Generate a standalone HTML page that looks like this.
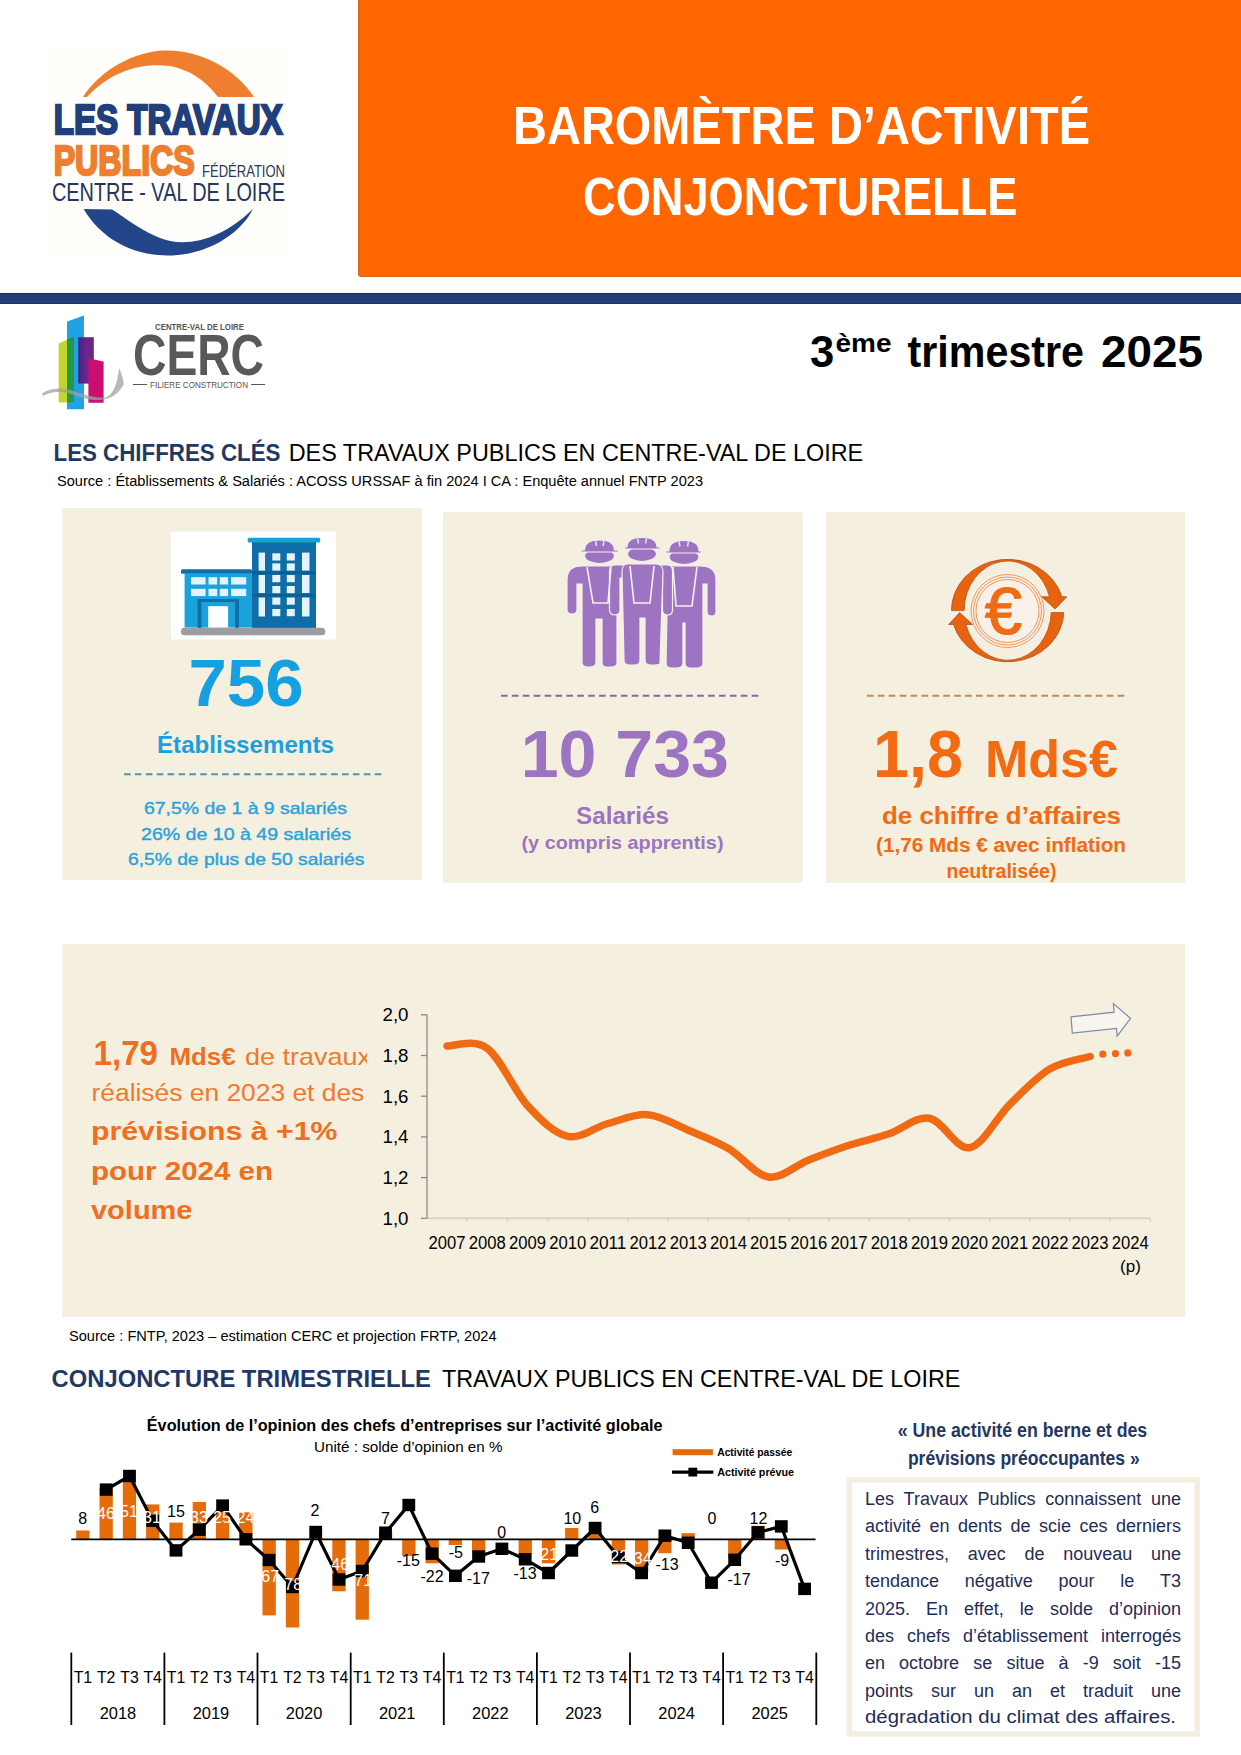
<!DOCTYPE html>
<html lang="fr">
<head>
<meta charset="utf-8">
<title>Baromètre d'activité conjoncturelle - 3ème trimestre 2025</title>
<style>
html,body{margin:0;padding:0;background:#fff;}
body{width:1241px;height:1755px;position:relative;overflow:hidden;font-family:"Liberation Sans",sans-serif;}
.abs{position:absolute;}
svg{position:absolute;left:0;top:0;overflow:visible;}
.card{position:absolute;background:#f5efe0;}
</style>
</head>
<body>
<!-- HEADER -->
<div class="abs" style="left:357.5px;top:0;width:881.5px;height:276px;background:#ff6600;border-left:2px solid #e2661a;border-bottom:1.6px solid #d9631c;border-bottom-left-radius:3px;"></div>
<div class="abs" style="left:0;top:292.5px;width:1241px;height:11.5px;background:#243e79;box-shadow:inset 0 1px 0 #1f2d5e, inset 0 -1px 0 #23335f;"></div>

<!-- CARDS BACKGROUNDS -->
<div class="card" style="left:62px;top:508px;width:360px;height:372px;"></div>
<div class="card" style="left:443px;top:512px;width:360px;height:371px;border-radius:3px;"></div>
<div class="card" style="left:826px;top:512px;width:359px;height:371px;"></div>
<div class="card" style="left:62px;top:944px;width:1123px;height:373px;"></div>

<svg width="1241" height="1755" viewBox="0 0 1241 1755" font-family="'Liberation Sans', sans-serif">
<!-- TP logo -->
<g id="tplogo">
  <rect x="48" y="49" width="243" height="205" fill="#fffefb"/>
  <path d="M83,97 C100,70 135,51 165,50.5 C200,50 235,68 254,97 L218,97 C205,80 190,70 170,66 C140,62 110,72 87,97 Z" fill="#ef7f2f"/>
  <path d="M83.7,209 L112,209.5 C125,217 145,235 170,241 C195,246 225,236 253,209 C240,235 205,256 167,255.5 C130,255 100,237 83.7,209 Z" fill="#23468a"/>
  <text x="53.7" y="133.8" font-size="43" font-weight="bold" fill="#213f7b" stroke="#213f7b" stroke-width="2.4" textLength="229" lengthAdjust="spacingAndGlyphs">LES TRAVAUX</text>
  <text x="53.7" y="174.8" font-size="41.6" font-weight="bold" fill="#ee7f30" stroke="#ee7f30" stroke-width="2.4" textLength="141" lengthAdjust="spacingAndGlyphs">PUBLICS</text>
  <text x="202" y="177" font-size="16" fill="#27375e" textLength="83" lengthAdjust="spacingAndGlyphs">FÉDÉRATION</text>
  <text x="52" y="201" font-size="26.5" fill="#22355f" textLength="233" lengthAdjust="spacingAndGlyphs">CENTRE - VAL DE LOIRE</text>
</g>
<!-- Title in orange -->
<text x="513" y="144.4" font-size="52.8" font-weight="bold" fill="#fff" textLength="577" lengthAdjust="spacingAndGlyphs">BAROMÈTRE D’ACTIVITÉ</text>
<text x="583" y="214.5" font-size="52.8" font-weight="bold" fill="#fff" textLength="434.5" lengthAdjust="spacingAndGlyphs">CONJONCTURELLE</text>

<!-- CERC logo -->
<g id="cerc">
  <defs><linearGradient id="pg" x1="0" x2="1" y1="0" y2="0"><stop offset="0" stop-color="#3a2a86"/><stop offset="0.6" stop-color="#74228f"/><stop offset="1" stop-color="#5e2a7e"/></linearGradient></defs>
  <path d="M58.7,343.4 L74,336.5 L74,402.5 L58.7,402.5 Z" fill="#c3d52b"/>
  <path d="M67,321.6 L84,315.4 L84,409.3 L67,409.3 Z" fill="#22a2e2"/>
  <path d="M67,339.4 L74,336.5 L74,402.5 L67,402.5 Z" fill="#1f9b48"/>
  <path d="M78.2,337.2 L93.8,337.2 L93.8,383.6 L78.2,383.6 Z" fill="url(#pg)"/>
  <path d="M88.4,358.2 L103.6,361.5 L103.6,402.8 L88.4,402.8 Z" fill="#cc0e72"/>
  <path d="M42,393.4 C50,388 60,387.5 70,390 C80,393 92,398 105.4,397.7 C113,395 117,385 119.2,368 C122,375 124,381 123.6,384.7 C118,395 110,399 100,400 C88,401 78,396 68,393 C58,391 50,392 43,396 Z" fill="#a0a0a0" opacity="0.75"/>
  <text x="155" y="330" font-size="8.5" font-weight="bold" fill="#555" textLength="89" lengthAdjust="spacingAndGlyphs">CENTRE-VAL DE LOIRE</text>
  <text x="133" y="375" font-size="57" font-weight="bold" fill="#58595b" textLength="131" lengthAdjust="spacingAndGlyphs">CERC</text>
  <text x="150" y="388" font-size="8.5" fill="#555" textLength="98" lengthAdjust="spacingAndGlyphs">FILIERE CONSTRUCTION</text>
  <rect x="133" y="384" width="14" height="1" fill="#555"/>
  <rect x="251" y="384" width="14" height="1" fill="#555"/>
</g>

<!-- 3eme trimestre -->
<text x="810" y="367" font-size="43.6" font-weight="bold" fill="#000">3</text>
<text x="835.5" y="352" font-size="25" font-weight="bold" fill="#000" textLength="56" lengthAdjust="spacingAndGlyphs">ème</text>
<text x="907.6" y="367" font-size="43.6" font-weight="bold" fill="#000" textLength="176.4" lengthAdjust="spacingAndGlyphs">trimestre</text>
<text x="1101" y="367" font-size="43.6" font-weight="bold" fill="#000" textLength="102" lengthAdjust="spacingAndGlyphs">2025</text>

<!-- Section header 1 -->
<text x="53.5" y="460.5" font-size="24.7" font-weight="bold" fill="#1f3864" textLength="227" lengthAdjust="spacingAndGlyphs">LES CHIFFRES CLÉS</text>
<text x="288.7" y="460.5" font-size="24.7" fill="#000" textLength="574.5" lengthAdjust="spacingAndGlyphs">DES TRAVAUX PUBLICS EN CENTRE-VAL DE LOIRE</text>
<text x="57" y="486" font-size="14" fill="#000" textLength="646" lengthAdjust="spacingAndGlyphs">Source : Établissements &amp; Salariés : ACOSS URSSAF à fin 2024 I CA : Enquête annuel FNTP 2023</text>

<!-- CARD 1 : building -->
<g id="card1">
  <rect x="171" y="531.5" width="165" height="108" fill="#fff"/>
  <rect x="252" y="542" width="64" height="86" fill="#0f6da8"/>
  <rect x="247.7" y="537.8" width="72.5" height="4.6" rx="1.5" fill="#1aa0d6"/>
  <rect x="252" y="571.4" width="64" height="2.8" fill="#0a5e92"/>
  <rect x="252" y="594" width="64" height="2.8" fill="#0a5e92"/>
  <g fill="#e4f3fb">
    <rect x="258.6" y="552.6" width="6.4" height="18"/><rect x="258.6" y="575" width="6.4" height="18"/><rect x="258.6" y="597.5" width="6.4" height="19"/>
    <rect x="302" y="552.6" width="7.5" height="18"/><rect x="302" y="575" width="7.5" height="18"/><rect x="302" y="597.5" width="7.5" height="19"/>
    <rect x="272.3" y="553.3" width="8" height="7.2"/><rect x="286.8" y="553.3" width="8" height="7.2"/>
    <rect x="272.3" y="563.4" width="8" height="7.2"/><rect x="286.8" y="563.4" width="8" height="7.2"/>
    <rect x="272.3" y="575" width="8" height="7.2"/><rect x="286.8" y="575" width="8" height="7.2"/>
    <rect x="272.3" y="586" width="8" height="7.2"/><rect x="286.8" y="586" width="8" height="7.2"/>
    <rect x="272.3" y="597.5" width="8" height="7.2"/><rect x="286.8" y="597.5" width="8" height="7.2"/>
    <rect x="272.3" y="609" width="8" height="7.2"/><rect x="286.8" y="609" width="8" height="7.2"/>
  </g>
  <rect x="184.6" y="573.6" width="67.4" height="54" fill="#1aa2da"/>
  <rect x="181" y="569.2" width="71" height="4.6" rx="1.5" fill="#0f6da8"/>
  <g fill="#e4f3fb">
    <rect x="191.1" y="577.2" width="14.5" height="7.3"/><rect x="208.5" y="577.2" width="8.7" height="7.3"/><rect x="219.8" y="577.2" width="8.3" height="7.3"/><rect x="231" y="577.2" width="15.2" height="7.3"/>
    <rect x="191.1" y="588.8" width="14.5" height="7.3"/><rect x="208.5" y="588.8" width="8.7" height="7.3"/><rect x="219.8" y="588.8" width="8.3" height="7.3"/><rect x="231" y="588.8" width="15.2" height="7.3"/>
  </g>
  <rect x="197.6" y="599" width="41.4" height="3" fill="#0f6da8"/>
  <rect x="197.6" y="599" width="3.8" height="29" fill="#0f6da8"/>
  <rect x="235.2" y="599" width="3.8" height="29" fill="#0f6da8"/>
  <rect x="208.2" y="606.2" width="19.9" height="21.5" fill="#fff"/>
  <rect x="181" y="627.8" width="144.3" height="7.4" rx="3.5" fill="#9c9ca2"/>
  <text x="246" y="706.4" font-size="66" font-weight="bold" fill="#15a0e2" text-anchor="middle" textLength="115" lengthAdjust="spacingAndGlyphs">756</text>
  <text x="157" y="752.7" font-size="24.5" font-weight="bold" fill="#1ba0dc" textLength="177" lengthAdjust="spacingAndGlyphs">Établissements</text>
  <line x1="124" y1="774.3" x2="383" y2="774.3" stroke="#4f95ae" stroke-width="1.9" stroke-dasharray="6.6 4.3"/>
  <g font-size="17" fill="#2aa3da" stroke="#2aa3da" stroke-width="0.4" text-anchor="middle">
    <text x="245.5" y="814" textLength="203" lengthAdjust="spacingAndGlyphs">67,5% de 1 à 9 salariés</text>
    <text x="246" y="839.6" textLength="210" lengthAdjust="spacingAndGlyphs">26% de 10 à 49 salariés</text>
    <text x="246.2" y="864.8" textLength="236.5" lengthAdjust="spacingAndGlyphs">6,5% de plus de 50 salariés</text>
  </g>
</g>

<!-- CARD 2 : workers -->
<g id="card2">
  <g fill="#9c74c1" stroke="#f7eef0" stroke-width="1.2">
    <!-- worker 3 (right, back) -->
    <path d="M668,566 L700,566 Q716,566 716,580 L716,612 Q716,616 712,616 Q707,616 707,612 L707,584 L703,584 L703,663 Q703,668 697,668 L690,668 Q685,668 685,663 L685,623 L683,623 L683,663 Q683,668 677,668 L671,668 Q666,668 666,663 Z"/>
    <!-- worker 1 (left) -->
    <path d="M582,566 L617,566 L617,663 Q617,667 611,667 L606,667 Q602,667 602,662 L602,619 L596,619 L596,662 Q596,667 590,667 L587,667 Q582,667 582,662 L582,584 L577,584 L577,610 Q577,614 572,614 Q567,614 567,610 L567,580 Q567,566 582,566 Z"/>
    <!-- worker 2 arms (over neighbours) -->
    <path d="M615,565 L630,565 L630,578 L620,578 L620,610 Q620,615 615,615 Q609.5,615 609.5,610 L609.5,571 Q609.5,565 615,565 Z"/>
    <path d="M653,565 L667,565 Q672.5,565 672.5,571 L672.5,610 Q672.5,615 667.5,615 Q662.5,615 662.5,610 L662.5,578 L653,578 Z"/>
    <!-- worker 2 (middle, front) -->
    <path d="M627,564 L656,564 Q663,564 663,572 L660,663 Q660,665 655,665 L650,665 Q645,665 645,660 L645,618 L640,618 L640,660 Q640,665 635,665 L629,665 Q624,665 624,660 L622,572 Q622,564 627,564 Z"/>
    <!-- heads -->
    <ellipse cx="599.5" cy="556" rx="15" ry="7.5"/>
    <ellipse cx="642" cy="554" rx="14.5" ry="7.5"/>
    <ellipse cx="684" cy="557" rx="15" ry="7.5"/>
    <!-- helmets -->
    <path d="M584.5,550 Q585,540 599.5,540 Q614,540 614.5,550 L618.5,550 L618.5,552 L581,552 L581,550 Z"/>
    <path d="M627,547 Q627,537.5 642,537.5 Q657,537.5 657,547 L660,547 L660,549 L624.5,549 L624.5,547 Z"/>
    <path d="M669,551 Q669,540.5 684,540.5 Q699,540.5 699,551 L701.5,551 L701.5,553 L665.5,553 L665.5,551 Z"/>
  </g>
  <g stroke="#f7eef0" stroke-width="1.3" fill="none">
    <path d="M595.5,541 L596.5,546 M604,541 L603,546 M637.5,538.5 L638.5,543.5 M646.5,538.5 L645.5,543.5 M679,541.5 L680,546.5 M688.5,541.5 L687.5,546.5"/>
  </g>
  <g stroke="#f7eef0" stroke-width="1.6" fill="none">
    <path d="M587,567 L593,603 L608,603 L611,567"/>
    <path d="M630,566 L634,603 L650,603 L654,566"/>
    <path d="M673,567 L676,606 L692,606 L697,567"/>
  </g>
  <line x1="501" y1="695.8" x2="760" y2="695.8" stroke="#8566ad" stroke-width="1.9" stroke-dasharray="6.6 4.3"/>
  <text x="520.7" y="777" font-size="66" font-weight="bold" fill="#9c74c1" textLength="208.3" lengthAdjust="spacingAndGlyphs">10 733</text>
  <text x="622.5" y="824" font-size="23" font-weight="bold" fill="#9c74c1" text-anchor="middle" textLength="93" lengthAdjust="spacingAndGlyphs">Salariés</text>
  <text x="622.5" y="849" font-size="19" font-weight="bold" fill="#9c74c1" text-anchor="middle" textLength="202" lengthAdjust="spacingAndGlyphs">(y compris apprentis)</text>
</g>

<!-- CARD 3 : euro -->
<g id="card3">
  <circle cx="1007.5" cy="611" r="38.6" fill="#f8f1ea"/>
  <g fill="none" stroke="#f08a3c" stroke-width="0.9">
    <circle cx="1007.5" cy="611" r="36.5"/>
    <circle cx="1007.5" cy="611" r="34"/>
    <circle cx="1007.5" cy="611" r="31.5"/>
  </g>
  <text x="1003.5" y="634" font-size="67" fill="#f26a12" stroke="#f26a12" stroke-width="1.2" text-anchor="middle">€</text>
  <path d="M951.4,610.6 A56.3,51.4 0 0 1 1061.9,596.8 L1066.8,596.8 L1055,609 L1041.7,596.8 L1049.5,596.8 A43.5,49.5 0 0 0 964.2,610.6 Z" fill="#e9620f" stroke="#a94a14" stroke-width="0.7"/>
  <path d="M1063.9,612.6 A56.3,51.4 0 0 1 953.5,624.5 L948.7,624.5 L959.6,612.6 L972.6,624.5 L965.95,624.5 A43.5,49.5 0 0 0 1051.2,612.6 Z" fill="#e9620f" stroke="#a94a14" stroke-width="0.7"/>
  <line x1="867" y1="695.8" x2="1127" y2="695.8" stroke="#c08a55" stroke-width="1.9" stroke-dasharray="6.6 4.3"/>
  <text x="873" y="777" font-size="66" font-weight="bold" fill="#f26a12" textLength="90" lengthAdjust="spacingAndGlyphs">1,8</text>
  <text x="985" y="777" font-size="52" font-weight="bold" fill="#f26a12" textLength="133" lengthAdjust="spacingAndGlyphs">Mds€</text>
  <text x="1001.5" y="824" font-size="23" font-weight="bold" fill="#f26a12" text-anchor="middle" textLength="239" lengthAdjust="spacingAndGlyphs">de chiffre d’affaires</text>
  <text x="1001" y="852" font-size="19.5" font-weight="bold" fill="#f26a12" text-anchor="middle" textLength="250" lengthAdjust="spacingAndGlyphs">(1,76 Mds € avec inflation</text>
  <text x="1001.5" y="878" font-size="19.5" font-weight="bold" fill="#f26a12" text-anchor="middle" textLength="110" lengthAdjust="spacingAndGlyphs">neutralisée)</text>
</g>

<!-- MIDDLE PANEL -->
<g id="midtext" fill="#ee6f1e">
  <text x="93.5" y="1065" font-size="34.5" font-weight="bold" textLength="64.5" lengthAdjust="spacingAndGlyphs">1,79</text>
  <text x="169.6" y="1065" font-size="23.5" font-weight="bold" textLength="66" lengthAdjust="spacingAndGlyphs">Mds€</text>
  <text x="245" y="1065" font-size="24" textLength="126" lengthAdjust="spacingAndGlyphs" fill="#ef7a2e">de travaux</text>
  <text x="91.5" y="1101.3" font-size="23" textLength="272.8" lengthAdjust="spacingAndGlyphs" fill="#ef7a2e">réalisés en 2023 et des</text>
  <text x="91" y="1139.8" font-size="25" font-weight="bold" textLength="246.4" lengthAdjust="spacingAndGlyphs">prévisions à +1%</text>
  <text x="91" y="1179.6" font-size="25" font-weight="bold" textLength="182" lengthAdjust="spacingAndGlyphs">pour 2024 en</text>
  <text x="91" y="1219.3" font-size="25" font-weight="bold" textLength="101.5" lengthAdjust="spacingAndGlyphs">volume</text>
</g>
<rect x="367" y="1040" width="14" height="30" fill="#f5efe0"/>
<g id="chart1">
  <line x1="427" y1="1218.3" x2="1150.5" y2="1218.3" stroke="#d9d4c8" stroke-width="2"/>
  <g stroke="#d9d4c8" stroke-width="1.5"><line x1="467.2" y1="1218.3" x2="467.2" y2="1222"/><line x1="507.4" y1="1218.3" x2="507.4" y2="1222"/><line x1="547.6" y1="1218.3" x2="547.6" y2="1222"/><line x1="587.8" y1="1218.3" x2="587.8" y2="1222"/><line x1="628.0" y1="1218.3" x2="628.0" y2="1222"/><line x1="668.1" y1="1218.3" x2="668.1" y2="1222"/><line x1="708.3" y1="1218.3" x2="708.3" y2="1222"/><line x1="748.5" y1="1218.3" x2="748.5" y2="1222"/><line x1="788.7" y1="1218.3" x2="788.7" y2="1222"/><line x1="828.9" y1="1218.3" x2="828.9" y2="1222"/><line x1="869.1" y1="1218.3" x2="869.1" y2="1222"/><line x1="909.3" y1="1218.3" x2="909.3" y2="1222"/><line x1="949.5" y1="1218.3" x2="949.5" y2="1222"/><line x1="989.7" y1="1218.3" x2="989.7" y2="1222"/><line x1="1029.8" y1="1218.3" x2="1029.8" y2="1222"/><line x1="1070.0" y1="1218.3" x2="1070.0" y2="1222"/><line x1="1110.2" y1="1218.3" x2="1110.2" y2="1222"/><line x1="1150.4" y1="1218.3" x2="1150.4" y2="1222"/></g>
  <line x1="427" y1="1014.7" x2="427" y2="1218.3" stroke="#8a8a8a" stroke-width="1.3"/>
  <g stroke="#8a8a8a" stroke-width="1.3"><line x1="421" y1="1218.3" x2="427" y2="1218.3"/><line x1="421" y1="1177.6" x2="427" y2="1177.6"/><line x1="421" y1="1136.9" x2="427" y2="1136.9"/><line x1="421" y1="1096.2" x2="427" y2="1096.2"/><line x1="421" y1="1055.5" x2="427" y2="1055.5"/><line x1="421" y1="1014.8" x2="427" y2="1014.8"/></g>
  <g font-size="18.5" fill="#000"><text x="408.5" y="1224.8" text-anchor="end" textLength="26" lengthAdjust="spacingAndGlyphs">1,0</text><text x="408.5" y="1184.1" text-anchor="end" textLength="26" lengthAdjust="spacingAndGlyphs">1,2</text><text x="408.5" y="1143.4" text-anchor="end" textLength="26" lengthAdjust="spacingAndGlyphs">1,4</text><text x="408.5" y="1102.7" text-anchor="end" textLength="26" lengthAdjust="spacingAndGlyphs">1,6</text><text x="408.5" y="1062.0" text-anchor="end" textLength="26" lengthAdjust="spacingAndGlyphs">1,8</text><text x="408.5" y="1021.3" text-anchor="end" textLength="26" lengthAdjust="spacingAndGlyphs">2,0</text></g>
  <g font-size="17.5" fill="#000"><text x="447.1" y="1249" text-anchor="middle" textLength="37" lengthAdjust="spacingAndGlyphs">2007</text><text x="487.3" y="1249" text-anchor="middle" textLength="37" lengthAdjust="spacingAndGlyphs">2008</text><text x="527.5" y="1249" text-anchor="middle" textLength="37" lengthAdjust="spacingAndGlyphs">2009</text><text x="567.7" y="1249" text-anchor="middle" textLength="37" lengthAdjust="spacingAndGlyphs">2010</text><text x="607.9" y="1249" text-anchor="middle" textLength="37" lengthAdjust="spacingAndGlyphs">2011</text><text x="648.0" y="1249" text-anchor="middle" textLength="37" lengthAdjust="spacingAndGlyphs">2012</text><text x="688.2" y="1249" text-anchor="middle" textLength="37" lengthAdjust="spacingAndGlyphs">2013</text><text x="728.4" y="1249" text-anchor="middle" textLength="37" lengthAdjust="spacingAndGlyphs">2014</text><text x="768.6" y="1249" text-anchor="middle" textLength="37" lengthAdjust="spacingAndGlyphs">2015</text><text x="808.8" y="1249" text-anchor="middle" textLength="37" lengthAdjust="spacingAndGlyphs">2016</text><text x="849.0" y="1249" text-anchor="middle" textLength="37" lengthAdjust="spacingAndGlyphs">2017</text><text x="889.2" y="1249" text-anchor="middle" textLength="37" lengthAdjust="spacingAndGlyphs">2018</text><text x="929.4" y="1249" text-anchor="middle" textLength="37" lengthAdjust="spacingAndGlyphs">2019</text><text x="969.6" y="1249" text-anchor="middle" textLength="37" lengthAdjust="spacingAndGlyphs">2020</text><text x="1009.8" y="1249" text-anchor="middle" textLength="37" lengthAdjust="spacingAndGlyphs">2021</text><text x="1049.9" y="1249" text-anchor="middle" textLength="37" lengthAdjust="spacingAndGlyphs">2022</text><text x="1090.1" y="1249" text-anchor="middle" textLength="37" lengthAdjust="spacingAndGlyphs">2023</text><text x="1130.3" y="1249" text-anchor="middle" textLength="37" lengthAdjust="spacingAndGlyphs">2024</text></g>
  <text x="1130.5" y="1272.4" font-size="17" text-anchor="middle" fill="#000">(p)</text>
  <path d="M447.1,1045.9 C453.8,1046.3 473.9,1038.4 487.3,1048.4 C500.7,1058.3 514.1,1090.9 527.5,1105.6 C540.9,1120.2 554.3,1133.3 567.7,1136.3 C581.1,1139.3 594.5,1127.1 607.9,1123.5 C621.3,1119.9 634.7,1113.6 648.0,1114.7 C661.4,1115.8 674.8,1124.6 688.2,1130.2 C701.6,1135.8 715.0,1140.7 728.4,1148.5 C741.8,1156.3 755.2,1175.1 768.6,1177.0 C782.0,1178.9 795.4,1165.2 808.8,1159.9 C822.2,1154.6 835.6,1149.6 849.0,1145.2 C862.4,1140.9 875.8,1138.4 889.2,1133.8 C902.6,1129.3 916.0,1115.9 929.4,1118.2 C942.8,1120.5 956.2,1150.0 969.6,1147.7 C983.0,1145.4 996.4,1117.5 1009.8,1104.3 C1023.2,1091.2 1036.6,1076.9 1049.9,1068.9 C1063.3,1061.0 1083.4,1058.6 1090.1,1056.5" fill="none" stroke="#f06a14" stroke-width="7.5" stroke-linecap="round" stroke-linejoin="round"/>
  <g fill="#f06a14"><circle cx="1102.8" cy="1054.2" r="3.6"/><circle cx="1115.5" cy="1053.6" r="3.6"/><circle cx="1127.8" cy="1052.9" r="3.6"/></g>
  <path d="M1071,1016.9 L1114.1,1012.1 L1113.4,1003.6 L1130.5,1018.3 L1117.2,1036.1 L1116.5,1028.4 L1072.3,1033 Z" fill="#f8f5ee" stroke="#7b8bab" stroke-width="1.2"/>
</g>

<!-- BOTTOM SECTION -->
<text x="69" y="1341" font-size="14.3" fill="#000" textLength="427.5" lengthAdjust="spacingAndGlyphs">Source : FNTP, 2023 – estimation CERC et projection FRTP, 2024</text>
<text x="51.6" y="1386.5" font-size="24.7" font-weight="bold" fill="#1f3864" textLength="379.2" lengthAdjust="spacingAndGlyphs">CONJONCTURE TRIMESTRIELLE</text>
<text x="441.9" y="1386.5" font-size="24.7" fill="#000" textLength="518.4" lengthAdjust="spacingAndGlyphs">TRAVAUX PUBLICS EN CENTRE-VAL DE LOIRE</text>
<text x="146.8" y="1431" font-size="16.5" font-weight="bold" fill="#000" textLength="515.8" lengthAdjust="spacingAndGlyphs">Évolution de l’opinion des chefs d’entreprises sur l’activité globale</text>
<text x="314" y="1452" font-size="15" fill="#000" textLength="188.5" lengthAdjust="spacingAndGlyphs">Unité : solde d’opinion en %</text>
<rect x="672.6" y="1449.2" width="40.3" height="6" fill="#e46c0a"/>
<text x="717.2" y="1455.8" font-size="11.2" font-weight="bold" fill="#000" textLength="75" lengthAdjust="spacingAndGlyphs">Activité passée</text>
<line x1="672" y1="1472.1" x2="713.4" y2="1472.1" stroke="#000" stroke-width="3.2"/>
<rect x="688.4" y="1467.7" width="8.8" height="8.8" fill="#000"/>
<text x="717.2" y="1475.6" font-size="11.2" font-weight="bold" fill="#000" textLength="76.8" lengthAdjust="spacingAndGlyphs">Activité prévue</text>
<g id="chart2">
<g fill="#e46c0a">
<rect x="76.2" y="1530.5" width="13.3" height="8.9"/>
<rect x="99.5" y="1487.5" width="13.3" height="51.9"/>
<rect x="122.8" y="1481.4" width="13.3" height="58.0"/>
<rect x="146.1" y="1504.4" width="13.3" height="35.0"/>
<rect x="169.4" y="1522.6" width="13.3" height="16.8"/>
<rect x="192.7" y="1502.0" width="13.3" height="37.4"/>
<rect x="215.9" y="1511.2" width="13.3" height="28.2"/>
<rect x="239.2" y="1512.3" width="13.3" height="27.1"/>
<rect x="262.5" y="1539.4" width="13.3" height="76.0"/>
<rect x="285.8" y="1539.4" width="13.3" height="88.1"/>
<rect x="309.1" y="1537.2" width="13.3" height="2.2"/>
<rect x="332.3" y="1539.4" width="13.3" height="51.9"/>
<rect x="355.6" y="1539.4" width="13.3" height="80.3"/>
<rect x="378.9" y="1531.5" width="13.3" height="7.9"/>
<rect x="402.2" y="1539.4" width="13.3" height="16.6"/>
<rect x="425.5" y="1539.4" width="13.3" height="23.9"/>
<rect x="448.7" y="1539.4" width="13.3" height="5.6"/>
<rect x="472.0" y="1539.4" width="13.3" height="19.2"/>
<rect x="518.6" y="1539.4" width="13.3" height="14.6"/>
<rect x="541.9" y="1539.4" width="13.3" height="23.9"/>
<rect x="565.1" y="1528.0" width="13.3" height="11.4"/>
<rect x="588.4" y="1532.6" width="13.3" height="6.8"/>
<rect x="611.7" y="1539.4" width="13.3" height="25.1"/>
<rect x="635.0" y="1539.4" width="13.3" height="32.6"/>
<rect x="658.2" y="1539.4" width="13.3" height="13.8"/>
<rect x="681.5" y="1533.2" width="13.3" height="6.2"/>
<rect x="728.1" y="1539.4" width="13.3" height="19.2"/>
<rect x="751.4" y="1525.8" width="13.3" height="13.6"/>
<rect x="774.7" y="1539.4" width="13.3" height="10.1"/>
</g>
<line x1="71.3" y1="1539.4" x2="815.6" y2="1539.4" stroke="#000" stroke-width="1.8"/>
<polyline points="106.2,1489.6 129.5,1476.0 152.7,1520.8 176.0,1550.4 199.3,1529.7 222.6,1505.6 245.9,1539.3 269.1,1560.0 292.4,1587.0 315.7,1532.0 339.0,1579.5 362.3,1571.0 385.5,1532.7 408.8,1505.0 432.1,1553.7 455.4,1575.8 478.7,1556.5 501.9,1548.8 525.2,1559.3 548.5,1573.0 571.8,1550.5 595.1,1528.0 618.3,1557.0 641.6,1573.0 664.9,1535.7 688.2,1542.8 711.5,1582.7 734.7,1559.8 758.0,1532.3 781.3,1526.4 804.6,1588.9" fill="none" stroke="#000" stroke-width="3.2" stroke-linejoin="round"/>
<g fill="#000">
<rect x="99.8" y="1483.4" width="12.8" height="12.4"/>
<rect x="123.1" y="1469.8" width="12.8" height="12.4"/>
<rect x="146.3" y="1514.6" width="12.8" height="12.4"/>
<rect x="169.6" y="1544.2" width="12.8" height="12.4"/>
<rect x="192.9" y="1523.5" width="12.8" height="12.4"/>
<rect x="216.2" y="1499.4" width="12.8" height="12.4"/>
<rect x="239.5" y="1533.1" width="12.8" height="12.4"/>
<rect x="262.7" y="1553.8" width="12.8" height="12.4"/>
<rect x="286.0" y="1580.8" width="12.8" height="12.4"/>
<rect x="309.3" y="1525.8" width="12.8" height="12.4"/>
<rect x="332.6" y="1573.3" width="12.8" height="12.4"/>
<rect x="355.9" y="1564.8" width="12.8" height="12.4"/>
<rect x="379.1" y="1526.5" width="12.8" height="12.4"/>
<rect x="402.4" y="1498.8" width="12.8" height="12.4"/>
<rect x="425.7" y="1547.5" width="12.8" height="12.4"/>
<rect x="449.0" y="1569.6" width="12.8" height="12.4"/>
<rect x="472.3" y="1550.3" width="12.8" height="12.4"/>
<rect x="495.5" y="1542.6" width="12.8" height="12.4"/>
<rect x="518.8" y="1553.1" width="12.8" height="12.4"/>
<rect x="542.1" y="1566.8" width="12.8" height="12.4"/>
<rect x="565.4" y="1544.3" width="12.8" height="12.4"/>
<rect x="588.7" y="1521.8" width="12.8" height="12.4"/>
<rect x="611.9" y="1550.8" width="12.8" height="12.4"/>
<rect x="635.2" y="1566.8" width="12.8" height="12.4"/>
<rect x="658.5" y="1529.5" width="12.8" height="12.4"/>
<rect x="681.8" y="1536.6" width="12.8" height="12.4"/>
<rect x="705.1" y="1576.5" width="12.8" height="12.4"/>
<rect x="728.3" y="1553.6" width="12.8" height="12.4"/>
<rect x="751.6" y="1526.1" width="12.8" height="12.4"/>
<rect x="774.9" y="1520.2" width="12.8" height="12.4"/>
<rect x="798.2" y="1582.7" width="12.8" height="12.4"/>
</g>
<g font-size="16" fill="#fff" text-anchor="middle">
<text x="106.0" y="1519.0">46</text>
<text x="129.0" y="1516.6">51</text>
<text x="152.0" y="1523.0">31</text>
<text x="199.0" y="1523.0">33</text>
<text x="222.0" y="1523.0">25</text>
<text x="245.5" y="1523.0">24</text>
<text x="267.5" y="1582.4">-67</text>
<text x="290.5" y="1589.7">-78</text>
<text x="337.5" y="1570.0">-46</text>
<text x="360.5" y="1585.6">-71</text>
<text x="546.5" y="1559.8">-21</text>
<text x="616.5" y="1562.4">-22</text>
<text x="640.0" y="1563.8">-34</text>
</g>
<g font-size="16" fill="#000" text-anchor="middle">
<text x="82.6" y="1524.0">8</text>
<text x="176.0" y="1517.4">15</text>
<text x="315.0" y="1516.3">2</text>
<text x="385.5" y="1523.5">7</text>
<text x="408.3" y="1566.0">-15</text>
<text x="432.1" y="1582.0">-22</text>
<text x="455.8" y="1558.0">-5</text>
<text x="478.3" y="1584.0">-17</text>
<text x="501.8" y="1537.5">0</text>
<text x="525.1" y="1578.5">-13</text>
<text x="572.3" y="1524.3">10</text>
<text x="594.7" y="1513.0">6</text>
<text x="667.0" y="1570.4">-13</text>
<text x="712.0" y="1524.4">0</text>
<text x="739.0" y="1584.6">-17</text>
<text x="758.5" y="1524.0">12</text>
<text x="782.0" y="1566.0">-9</text>
</g>
<g stroke="#000" stroke-width="1.8">
<line x1="71.3" y1="1652.6" x2="71.3" y2="1725"/>
<line x1="164.4" y1="1652.6" x2="164.4" y2="1725"/>
<line x1="257.5" y1="1652.6" x2="257.5" y2="1725"/>
<line x1="350.7" y1="1652.6" x2="350.7" y2="1725"/>
<line x1="443.8" y1="1652.6" x2="443.8" y2="1725"/>
<line x1="536.9" y1="1652.6" x2="536.9" y2="1725"/>
<line x1="630.0" y1="1652.6" x2="630.0" y2="1725"/>
<line x1="723.1" y1="1652.6" x2="723.1" y2="1725"/>
<line x1="816.3" y1="1652.6" x2="816.3" y2="1725"/>
</g>
<g font-size="16.5" fill="#000" text-anchor="middle">
<text x="82.9" y="1683" textLength="18.5" lengthAdjust="spacingAndGlyphs">T1</text>
<text x="106.2" y="1683" textLength="18.5" lengthAdjust="spacingAndGlyphs">T2</text>
<text x="129.5" y="1683" textLength="18.5" lengthAdjust="spacingAndGlyphs">T3</text>
<text x="152.7" y="1683" textLength="18.5" lengthAdjust="spacingAndGlyphs">T4</text>
<text x="176.0" y="1683" textLength="18.5" lengthAdjust="spacingAndGlyphs">T1</text>
<text x="199.3" y="1683" textLength="18.5" lengthAdjust="spacingAndGlyphs">T2</text>
<text x="222.6" y="1683" textLength="18.5" lengthAdjust="spacingAndGlyphs">T3</text>
<text x="245.9" y="1683" textLength="18.5" lengthAdjust="spacingAndGlyphs">T4</text>
<text x="269.1" y="1683" textLength="18.5" lengthAdjust="spacingAndGlyphs">T1</text>
<text x="292.4" y="1683" textLength="18.5" lengthAdjust="spacingAndGlyphs">T2</text>
<text x="315.7" y="1683" textLength="18.5" lengthAdjust="spacingAndGlyphs">T3</text>
<text x="339.0" y="1683" textLength="18.5" lengthAdjust="spacingAndGlyphs">T4</text>
<text x="362.3" y="1683" textLength="18.5" lengthAdjust="spacingAndGlyphs">T1</text>
<text x="385.5" y="1683" textLength="18.5" lengthAdjust="spacingAndGlyphs">T2</text>
<text x="408.8" y="1683" textLength="18.5" lengthAdjust="spacingAndGlyphs">T3</text>
<text x="432.1" y="1683" textLength="18.5" lengthAdjust="spacingAndGlyphs">T4</text>
<text x="455.4" y="1683" textLength="18.5" lengthAdjust="spacingAndGlyphs">T1</text>
<text x="478.7" y="1683" textLength="18.5" lengthAdjust="spacingAndGlyphs">T2</text>
<text x="501.9" y="1683" textLength="18.5" lengthAdjust="spacingAndGlyphs">T3</text>
<text x="525.2" y="1683" textLength="18.5" lengthAdjust="spacingAndGlyphs">T4</text>
<text x="548.5" y="1683" textLength="18.5" lengthAdjust="spacingAndGlyphs">T1</text>
<text x="571.8" y="1683" textLength="18.5" lengthAdjust="spacingAndGlyphs">T2</text>
<text x="595.1" y="1683" textLength="18.5" lengthAdjust="spacingAndGlyphs">T3</text>
<text x="618.3" y="1683" textLength="18.5" lengthAdjust="spacingAndGlyphs">T4</text>
<text x="641.6" y="1683" textLength="18.5" lengthAdjust="spacingAndGlyphs">T1</text>
<text x="664.9" y="1683" textLength="18.5" lengthAdjust="spacingAndGlyphs">T2</text>
<text x="688.2" y="1683" textLength="18.5" lengthAdjust="spacingAndGlyphs">T3</text>
<text x="711.5" y="1683" textLength="18.5" lengthAdjust="spacingAndGlyphs">T4</text>
<text x="734.7" y="1683" textLength="18.5" lengthAdjust="spacingAndGlyphs">T1</text>
<text x="758.0" y="1683" textLength="18.5" lengthAdjust="spacingAndGlyphs">T2</text>
<text x="781.3" y="1683" textLength="18.5" lengthAdjust="spacingAndGlyphs">T3</text>
<text x="804.6" y="1683" textLength="18.5" lengthAdjust="spacingAndGlyphs">T4</text>
<text x="117.9" y="1718.6" textLength="36.5" lengthAdjust="spacingAndGlyphs">2018</text>
<text x="211.0" y="1718.6" textLength="36.5" lengthAdjust="spacingAndGlyphs">2019</text>
<text x="304.1" y="1718.6" textLength="36.5" lengthAdjust="spacingAndGlyphs">2020</text>
<text x="397.2" y="1718.6" textLength="36.5" lengthAdjust="spacingAndGlyphs">2021</text>
<text x="490.3" y="1718.6" textLength="36.5" lengthAdjust="spacingAndGlyphs">2022</text>
<text x="583.5" y="1718.6" textLength="36.5" lengthAdjust="spacingAndGlyphs">2023</text>
<text x="676.6" y="1718.6" textLength="36.5" lengthAdjust="spacingAndGlyphs">2024</text>
<text x="769.7" y="1718.6" textLength="36.5" lengthAdjust="spacingAndGlyphs">2025</text>
</g>
</g>

<!-- QUOTE BOX -->
<text x="1022.5" y="1437" font-size="19.5" font-weight="bold" fill="#1f3864" text-anchor="middle" textLength="249.5" lengthAdjust="spacingAndGlyphs">« Une activité en berne et des</text>
<text x="1023.8" y="1464.7" font-size="19.5" font-weight="bold" fill="#1f3864" text-anchor="middle" textLength="231.8" lengthAdjust="spacingAndGlyphs">prévisions préoccupantes »</text>
<rect x="849.3" y="1479.8" width="347.9" height="254" fill="#fff" stroke="#f4eee1" stroke-width="5.5"/>
<g font-size="18" fill="#1f2d58">
<text x="865.0" y="1504.5">Les</text>
<text x="903.6" y="1504.5">Travaux</text>
<text x="977.6" y="1504.5">Publics</text>
<text x="1045.3" y="1504.5">connaissent</text>
<text x="1151.0" y="1504.5">une</text>
<text x="865.0" y="1532.0">activité</text>
<text x="929.5" y="1532.0">en</text>
<text x="958.0" y="1532.0">dents</text>
<text x="1010.5" y="1532.0">de</text>
<text x="1039.0" y="1532.0">scie</text>
<text x="1079.5" y="1532.0">ces</text>
<text x="1116.0" y="1532.0">derniers</text>
<text x="865.0" y="1559.6">trimestres,</text>
<text x="967.7" y="1559.6">avec</text>
<text x="1024.5" y="1559.6">de</text>
<text x="1063.2" y="1559.6">nouveau</text>
<text x="1151.0" y="1559.6">une</text>
<text x="865.0" y="1587.2">tendance</text>
<text x="964.8" y="1587.2">négative</text>
<text x="1058.5" y="1587.2">pour</text>
<text x="1120.3" y="1587.2">le</text>
<text x="1160.0" y="1587.2">T3</text>
<text x="865.0" y="1614.7">2025.</text>
<text x="926.1" y="1614.7">En</text>
<text x="964.1" y="1614.7">effet,</text>
<text x="1019.8" y="1614.7">le</text>
<text x="1049.9" y="1614.7">solde</text>
<text x="1108.9" y="1614.7">d’opinion</text>
<text x="865.0" y="1642.3">des</text>
<text x="907.0" y="1642.3">chefs</text>
<text x="962.9" y="1642.3">d’établissement</text>
<text x="1101.0" y="1642.3">interrogés</text>
<text x="865.0" y="1669.0">en</text>
<text x="899.1" y="1669.0">octobre</text>
<text x="973.3" y="1669.0">se</text>
<text x="1006.4" y="1669.0">situe</text>
<text x="1058.6" y="1669.0">à</text>
<text x="1082.7" y="1669.0">-9</text>
<text x="1112.8" y="1669.0">soit</text>
<text x="1155.0" y="1669.0">-15</text>
<text x="865.0" y="1696.5">points</text>
<text x="931.0" y="1696.5">sur</text>
<text x="974.0" y="1696.5">un</text>
<text x="1012.0" y="1696.5">an</text>
<text x="1050.0" y="1696.5">et</text>
<text x="1083.0" y="1696.5">traduit</text>
<text x="1151.0" y="1696.5">une</text>
<text x="865" y="1723.4" textLength="311" lengthAdjust="spacingAndGlyphs">dégradation du climat des affaires.</text>
</g>

</svg>
</body>
</html>
